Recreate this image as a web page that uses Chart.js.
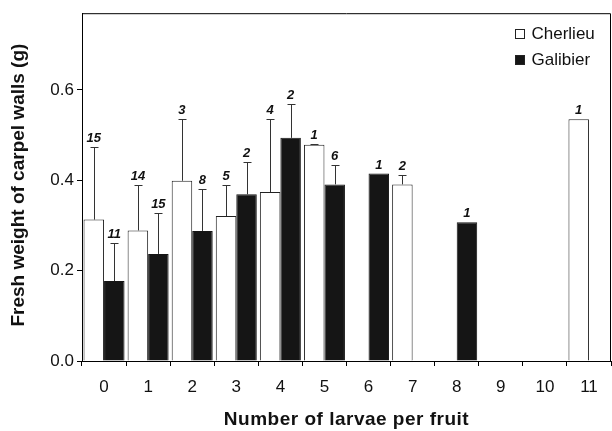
<!DOCTYPE html>
<html>
<head>
<meta charset="utf-8">
<script src="https://cdn.jsdelivr.net/npm/chart.js@4.4.1/dist/chart.umd.min.js"></script>
<style>
  html, body { margin: 0; padding: 0; background: #fff; }
  #wrap { width: 612px; height: 431px; position: relative; }
</style>
</head>
<body>
<div id="wrap"><canvas id="chart" width="612" height="431"></canvas></div>
<script>
// ==== Data ====
const larvae = ['0', '1', '2', '3', '4', '5', '6', '7', '8', '9', '10', '11'];

const cherlieu    = [0.313, 0.289, 0.399, 0.321, 0.374, 0.479, null, 0.391, null, null, null, 0.535];
const cherlieuErr = [0.160, 0.101, 0.137, 0.069, 0.162, 0.002, null, 0.020, null, null, null, 0];
const cherlieuN   = [15, 14, 3, 5, 4, 1, null, 2, null, null, null, 1];

const galibier    = [0.177, 0.237, 0.288, 0.369, 0.494, 0.391, 0.415, null, 0.307, null, null, null];
const galibierErr = [0.085, 0.090, 0.092, 0.071, 0.074, 0.043, 0, null, 0, null, null, null];
const galibierN   = [11, 15, 8, 2, 2, 6, 1, null, 1, null, null, null];

const yTicks = [0, 0.2, 0.4, 0.6];

const FONT = '"Liberation Sans", Arial, Helvetica, sans-serif';

// ==== Plugins ====
// one-sided error bars + sample size labels
const errorBars = {
  id: 'errorBars',
  afterDatasetsDraw(chart) {
    const {ctx, scales: {y}} = chart;
    chart.data.datasets.forEach((ds, i) => {
      const meta = chart.getDatasetMeta(i);
      meta.data.forEach((bar, j) => {
        const v = ds.data[j];
        if (v == null) return;
        const err = ds.errors[j] || 0;
        const yTop = y.getPixelForValue(v + err);
        ctx.save();
        if (err > 0) {
          ctx.strokeStyle = '#333';
          ctx.lineWidth = 1;
          const x = Math.round(bar.x) + 0.5;
          const yt = Math.round(yTop) + 0.5;
          ctx.beginPath();
          ctx.moveTo(x, bar.y); ctx.lineTo(x, yt);
          ctx.moveTo(x - 4, yt); ctx.lineTo(x + 4, yt);
          ctx.stroke();
        }
        const n = ds.counts[j];
        if (n != null) {
          ctx.fillStyle = '#111';
          ctx.font = 'italic bold 13px ' + FONT;
          ctx.textAlign = 'center';
          ctx.textBaseline = 'alphabetic';
          ctx.fillText(String(n), bar.x, Math.min(yTop, bar.y) - 5);
        }
        ctx.restore();
      });
    });
  }
};

// frame around plot + legend + axis titles
const decor = {
  id: 'decor',
  afterDraw(chart) {
    const {ctx, chartArea: a} = chart;
    ctx.save();
    ctx.strokeStyle = '#000';
    ctx.lineWidth = 1;
    ctx.beginPath();
    ctx.moveTo(a.left + 0.5, a.top + 0.5);
    ctx.lineTo(a.right - 0.5, a.top + 0.5);
    ctx.lineTo(a.right - 0.5, a.bottom);
    ctx.stroke();

    // legend
    ctx.font = '17px ' + FONT;
    ctx.textBaseline = 'middle';
    ctx.textAlign = 'left';
    chart.data.datasets.forEach((ds, i) => {
      const bx = a.right - 95.5, by = 29.5 + i * 26;
      ctx.fillStyle = ds.backgroundColor;
      ctx.fillRect(bx, by, 9, 9);
      ctx.strokeStyle = '#222';
      ctx.strokeRect(bx, by, 9, 9);
      ctx.fillStyle = '#111';
      ctx.fillText(ds.label, bx + 16, by + 5);
    });

    // axis titles
    ctx.fillStyle = '#111';
    ctx.font = 'bold 19px ' + FONT;
    ctx.letterSpacing = '0.5px';
    ctx.textAlign = 'center';
    ctx.textBaseline = 'middle';
    ctx.fillText('Number of larvae per fruit', (a.left + a.right) / 2, 420);
    ctx.letterSpacing = '0px';
    ctx.translate(19, (a.top + a.bottom) / 2 - 2);
    ctx.rotate(-Math.PI / 2);
    ctx.fillText('Fresh weight of carpel walls (g)', 0, 0);
    ctx.restore();
  }
};

// ==== Chart ====
new Chart(document.getElementById('chart'), {
  type: 'bar',
  data: {
    labels: larvae,
    datasets: [
      {
        label: 'Cherlieu',
        data: cherlieu,
        errors: cherlieuErr,
        counts: cherlieuN,
        backgroundColor: '#ffffff',
        borderColor: '#222',
        borderWidth: 1,
        categoryPercentage: 0.93,
        barPercentage: 1.0
      },
      {
        label: 'Galibier',
        data: galibier,
        errors: galibierErr,
        counts: galibierN,
        backgroundColor: '#151515',
        borderColor: '#151515',
        borderWidth: 1,
        categoryPercentage: 0.93,
        barPercentage: 1.0
      }
    ]
  },
  options: {
    responsive: false,
    animation: false,
    layout: { padding: { top: 10, right: 1, left: 0, bottom: 0 } },
    plugins: { legend: { display: false }, tooltip: { enabled: false } },
    scales: {
      x: {
        offset: true,
        grid: { drawOnChartArea: false, offset: true, color: '#000', tickLength: 5 },
        border: { color: '#000' },
        ticks: { color: '#111', padding: 11, font: { family: FONT, size: 17 } },
        afterFit(s) { s.height = 70; }
      },
      y: {
        min: 0,
        max: 0.77,
        afterBuildTicks(s) { s.ticks = yTicks.map(v => ({ value: v })); },
        grid: { drawOnChartArea: false, color: '#000', tickLength: 5 },
        border: { color: '#000' },
        ticks: {
          color: '#111', padding: 3, font: { family: FONT, size: 17 },
          callback: v => Number(v).toFixed(1)
        },
        afterFit(s) { s.width = 82; }
      }
    }
  },
  plugins: [errorBars, decor]
});
</script>
</body>
</html>
